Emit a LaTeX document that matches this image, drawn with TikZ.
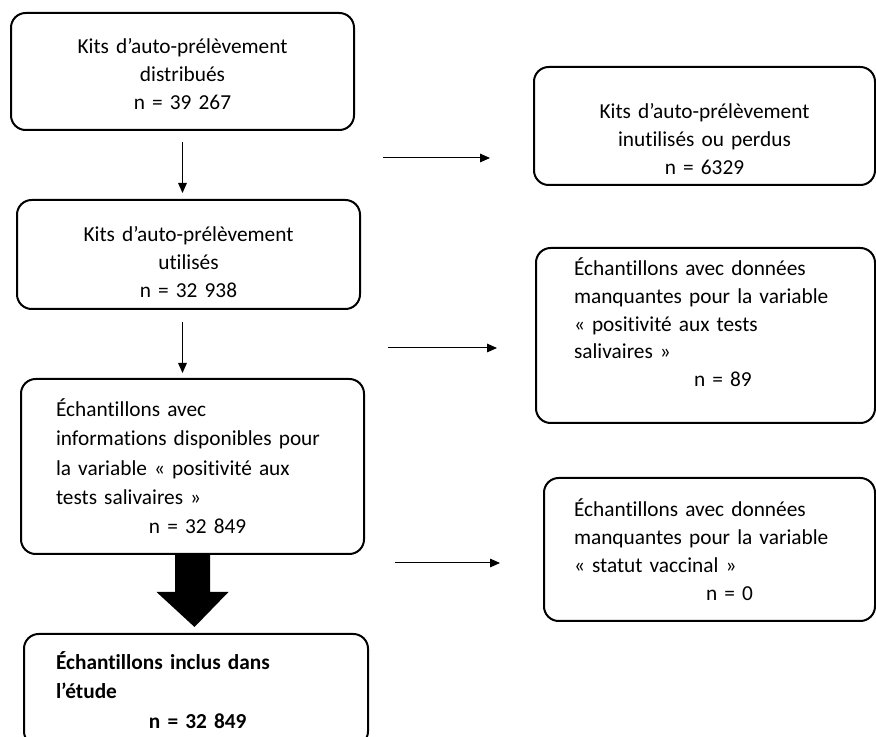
\documentclass[tikz,border=0pt]{standalone}
\usepackage{fontspec}
\setmainfont{Carlito}[Ligatures=NoCommon]
\usetikzlibrary{calc,positioning,arrows.meta}
\tikzstyle{line} = [draw, line width=0.75pt, -{Triangle[length=7.5pt,width=6.5pt]}]
\newcommand{\padtop}[1]{\rule{0pt}{#1}}
\newcommand{\padbot}[1]{\rule[-#1]{0pt}{0pt}}
\newcommand{\boxfont}[1]{\fontsize{16pt}{#1}\selectfont\spaceskip=2.9pt\relax}

\begin{document}
\begin{tikzpicture}[
	x=0.75pt, y=-0.75pt,
	every node/.style={font=\boxfont{21pt}},
	box/.style={
		rectangle,
		rounded corners=11pt,
		line width=1.5pt,
		draw=black,
		anchor=north west,
		inner ysep=0pt,
	},
	mid/.style={
		box,
		align=center,
		inner xsep=10pt,
	},
	lft/.style={
		box,
		align=left,
	}
]
	\useasboundingbox (0,0) rectangle (876,737);

	% left column
	\node (dist) [mid,text width=237.25pt,minimum height=87.75pt] at (10,12)
		{\padtop{15pt}Kits d’auto-prélèvement\\distribués\\n = 39 267};
	\node (used) [mid,text width=237.25pt,minimum height=81.75pt] at (16,199)
		{\padtop{23pt}Kits d’auto-prélèvement\\utilisés\\n = 32 938};
	\node (avail) [lft,inner xsep=26.25pt,text width=204.75pt,minimum height=131.25pt,
		font=\boxfont{22pt}] at (20,378)
		{Échantillons avec\\informations disponibles pour\\la variable «~positivité aux\\tests salivaires~»\\\hspace*{69.75pt}n = 32 849};
	\node (incl) [lft,inner xsep=24pt,text width=210pt,minimum height=84pt,
		font=\boxfont{22pt}\bfseries] at (23,633)
		{Échantillons inclus dans\\l’étude\\\hspace*{69.75pt}n = 32 849};

	% right column
	\node (lost) [mid,text width=235.75pt,minimum height=88.5pt] at (533,66)
		{\padtop{30.5pt}Kits d’auto-prélèvement\\inutilisés ou perdus\\n = 6329};
	\node (msal) [lft,inner xsep=28.5pt,text width=197.25pt,minimum height=131.25pt,
		font=\boxfont{20.75pt}] at (535,247)
		{Échantillons avec données\\manquantes pour la variable\\«~positivité aux tests\\salivaires~»\\\hspace*{90pt}n = 89\padbot{20pt}};
	\node (mvac) [lft,inner xsep=22.5pt,text width=203.25pt,minimum height=107.25pt] at (543,477)
		{Échantillons avec données\\manquantes pour la variable\\«~statut vaccinal~»\\\hspace*{99pt}n = 0};

	\draw [line,shorten <=8.25pt,shorten >=4.5pt] (dist.south) -- (dist.south |- used.north);
	\draw [line,shorten <=9pt,shorten >=3.75pt] (used.south -| dist.south) -- (dist.south |- avail.north);

	\coordinate (s1) at (383,158);
	\coordinate (s2) at (388,348);
	\coordinate (s3) at (395,563);
	\draw [line,shorten >=32.25pt] (s1) -- (s1 -| lost.west);
	\draw [line,shorten >=28.5pt] (s2) -- (s2 -| msal.west);
	\draw [line,shorten >=32.25pt] (s3) -- (s3 -| mvac.west);

	% big arrow
	\fill ($(avail.south)+(-17.5,0)$) -- ($(avail.south)+(-17.5,37)$)
		-- ($(avail.south)+(-36,37)$) -- ($(incl.north)+(-1.5,-6)$)
		-- ($(avail.south)+(36,37)$) -- ($(avail.south)+(17.5,37)$)
		-- ($(avail.south)+(17.5,0)$) -- cycle;

\end{tikzpicture}
\end{document}
